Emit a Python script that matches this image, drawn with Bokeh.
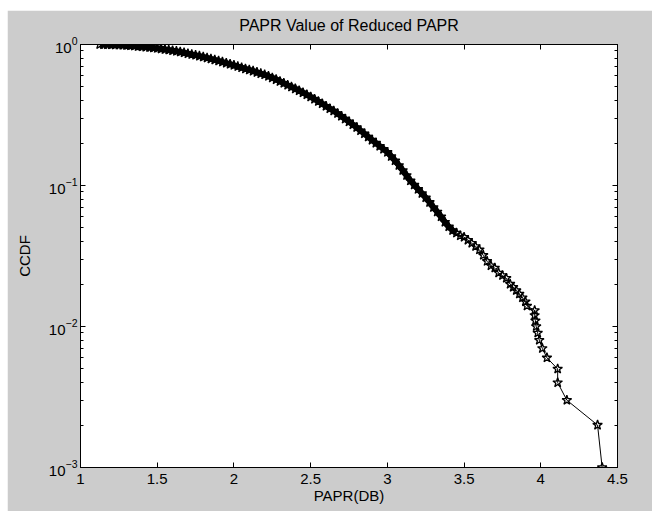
from bokeh.plotting import figure
from bokeh.models import LogAxis, LinearAxis, FixedTicker, CustomJSTickFormatter
from bokeh.embed import file_html
from bokeh.resources import INLINE

# ---- data (PAPR in dB vs CCDF) ----
papr_db = [
    1.125, 1.150, 1.175, 1.200, 1.225, 1.250, 1.275, 1.300, 1.325, 1.350,
    1.375, 1.400, 1.425, 1.450, 1.475, 1.500, 1.525, 1.550, 1.575, 1.600,
    1.625, 1.650, 1.675, 1.700, 1.725, 1.750, 1.775, 1.800, 1.825, 1.850,
    1.875, 1.900, 1.925, 1.950, 1.975, 2.000, 2.025, 2.050, 2.075, 2.100,
    2.125, 2.150, 2.175, 2.200, 2.225, 2.250, 2.275, 2.300, 2.325, 2.350,
    2.375, 2.400, 2.425, 2.450, 2.475, 2.500, 2.525, 2.550, 2.575, 2.600,
    2.625, 2.650, 2.675, 2.700, 2.725, 2.750, 2.775, 2.800, 2.825, 2.850,
    2.875, 2.900, 2.925, 2.950, 2.975, 3.000, 3.025, 3.050, 3.075, 3.100,
    3.125, 3.150, 3.175, 3.200, 3.225, 3.250, 3.275, 3.300, 3.325, 3.350,
    3.375, 3.400, 3.425, 3.450, 3.475, 3.500, 3.525, 3.550, 3.575, 3.600,
    3.625, 3.650, 3.675, 3.700, 3.725, 3.750, 3.775, 3.800,
    3.82, 3.84, 3.86, 3.88, 3.90, 3.91, 3.96, 3.96, 3.965, 3.97,
    3.98, 3.99, 4.01, 4.04, 4.11, 4.11, 4.17, 4.37, 4.40,
]
ccdf = [
    1.000, 0.999, 0.998, 0.996, 0.994, 0.991, 0.988, 0.985, 0.980, 0.975,
    0.970, 0.965, 0.959, 0.952, 0.946, 0.940, 0.932, 0.924, 0.915, 0.905,
    0.895, 0.885, 0.874, 0.862, 0.851, 0.840, 0.828, 0.815, 0.803, 0.790,
    0.778, 0.765, 0.751, 0.738, 0.725, 0.712, 0.698, 0.685, 0.672, 0.660,
    0.648, 0.635, 0.622, 0.610, 0.595, 0.580, 0.564, 0.548, 0.531, 0.515,
    0.500, 0.485, 0.470, 0.455, 0.440, 0.425, 0.410, 0.395, 0.380, 0.365,
    0.351, 0.338, 0.324, 0.310, 0.296, 0.283, 0.270, 0.258, 0.245, 0.233,
    0.221, 0.210, 0.200, 0.190, 0.181, 0.172, 0.161, 0.150, 0.139, 0.128,
    0.118, 0.108, 0.101, 0.094, 0.088, 0.082, 0.076, 0.070, 0.065, 0.060,
    0.055, 0.051, 0.048, 0.046, 0.044, 0.043, 0.041, 0.039, 0.037, 0.035,
    0.032, 0.029, 0.027, 0.026, 0.024, 0.023, 0.022, 0.020,
    0.019, 0.018, 0.017, 0.016, 0.015, 0.014, 0.013, 0.012, 0.011, 0.010,
    0.009, 0.008, 0.007, 0.006, 0.005, 0.004, 0.003, 0.002, 0.001,
]
dense_count = 94  # points up to 3.45 dB overlap into a solid band
x_ticks = [1, 1.5, 2, 2.5, 3, 3.5, 4, 4.5]
y_ticks = [1e-3, 1e-2, 1e-1, 1]
y_minor = [m * 10.0 ** e for e in (-3, -2, -1) for m in range(2, 10)]
title_text = "PAPR Value of Reduced PAPR"

FONT = "Liberation Sans"
GRAY = "#cccccc"

p = figure(
    frame_width=537, frame_height=423,
    x_range=(1, 4.5), y_range=(1e-3, 1), y_axis_type="log",
    output_backend="svg", toolbar_location=None,
    min_border_left=73, min_border_right=35, min_border_top=34, min_border_bottom=44,
    x_axis_label="PAPR(DB)", y_axis_label="CCDF",
)
p.margin = (10, 0, 0, 7)
p.border_fill_color = GRAY
p.background_fill_color = "white"
p.outline_line_color = "black"
p.outline_line_width = 1
p.grid.visible = False

xt = FixedTicker(ticks=x_ticks)
yt = FixedTicker(ticks=y_ticks, minor_ticks=y_minor)
xfmt = CustomJSTickFormatter(code="return tick.toString();")

def style(ax):
    ax.axis_line_color = "black"
    ax.major_tick_line_color = "black"
    ax.minor_tick_line_color = "black"
    ax.major_tick_in = 5
    ax.major_tick_out = 0
    ax.minor_tick_in = 3
    ax.minor_tick_out = 0
    ax.major_label_text_font = FONT
    ax.major_label_text_font_size = "15px"
    ax.major_label_text_color = "black"
    ax.axis_label_text_font = FONT
    ax.axis_label_text_font_size = "15px"
    ax.axis_label_text_font_style = "normal"
    ax.axis_label_text_color = "black"

xa = p.xaxis[0]
xa.ticker = xt
xa.formatter = xfmt
style(xa)
xa.minor_tick_line_color = None
xa.major_label_standoff = 6
xa.axis_label_standoff = 0

ya = p.yaxis[0]
ya.ticker = yt
style(ya)
ya.major_label_standoff = 3
ya.axis_label_standoff = 13

blank = CustomJSTickFormatter(code="return '';")
top = LinearAxis(ticker=xt, formatter=blank, axis_label=title_text)
style(top)
top.minor_tick_line_color = None
top.major_label_text_font_size = "0px"
top.major_label_standoff = 0
top.axis_label_text_font_size = "16px"
top.axis_label_standoff = 11
p.add_layout(top, "above")

right = LogAxis(ticker=yt, formatter=blank)
style(right)
right.major_label_text_font_size = "0px"
right.major_label_standoff = 0
p.add_layout(right, "right")

p.line(papr_db[:dense_count], ccdf[:dense_count], line_color="black", line_width=6)
p.line(papr_db, ccdf, line_color="black", line_width=1)
p.scatter(papr_db, ccdf, marker="star", size=10, fill_color=None,
          line_color="black", line_width=1.3)

open("out.html", "w").write(file_html(p, INLINE))
